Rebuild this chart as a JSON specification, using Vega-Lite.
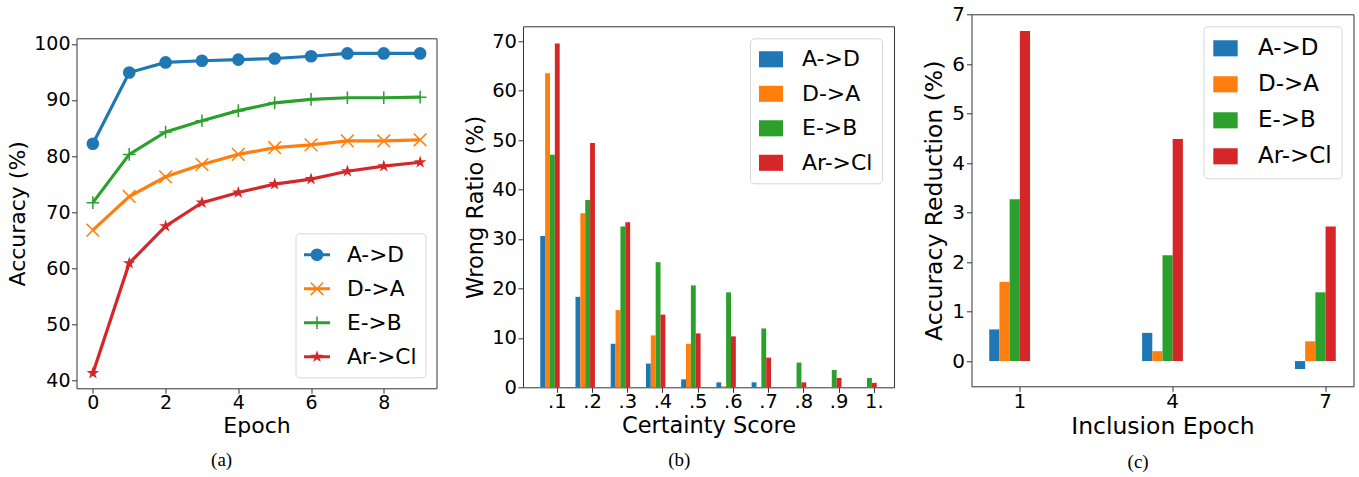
{
  "$schema": "https://vega.github.io/schema/vega-lite/v6.json",
  "background": "white",
  "padding": {"left": 5.5, "top": 3.3, "right": 0, "bottom": 0},
  "spacing": 26.5,
  "resolve": {"scale": {"color": "independent", "stroke": "independent", "shape": "independent", "xOffset": "independent"}, "legend": {"color": "independent", "stroke": "independent", "shape": "independent"}},
  "config": {
    "font": "DejaVu Sans",
    "view": {"stroke": "#333333", "strokeWidth": 1},
    "axis": {"domain": false, "grid": false, "tickColor": "#333333", "tickSize": 5, "tickWidth": 1, "labelColor": "#000000", "titleColor": "#000000", "labelFont": "DejaVu Sans", "titleFont": "DejaVu Sans", "titleFontWeight": "normal"},
    "legend": {"labelFont": "DejaVu Sans", "labelColor": "#000000", "strokeColor": "#d6d6d6", "fillColor": "rgba(255,255,255,0.85)", "cornerRadius": 4, "symbolOpacity": 1, "symbolStrokeWidth": 0}
  },
  "hconcat": [
    {
      "title": {"text": "(a)", "orient": "bottom", "font": "Liberation Serif", "fontSize": 19, "fontWeight": "normal", "color": "#000000", "anchor": "middle", "frame": "bounds", "offset": 14},
      "spacing": 0,
      "resolve": {"scale": {"color": "independent", "stroke": "independent", "shape": "independent"}, "legend": {"color": "independent", "stroke": "independent", "shape": "independent"}},
      "vconcat": [
        {"width": 1, "height": 19.6, "data": {"values": []}, "mark": "point", "view": {"stroke": null, "fill": "white"}},
        {
          "width": 360,
          "height": 350,
          "data": {"values": [
            {"series": "A->D", "epoch": 0, "acc": 82.2}, {"series": "A->D", "epoch": 1, "acc": 94.9}, {"series": "A->D", "epoch": 2, "acc": 96.7}, {"series": "A->D", "epoch": 3, "acc": 97.0}, {"series": "A->D", "epoch": 4, "acc": 97.2}, {"series": "A->D", "epoch": 5, "acc": 97.4}, {"series": "A->D", "epoch": 6, "acc": 97.8}, {"series": "A->D", "epoch": 7, "acc": 98.3}, {"series": "A->D", "epoch": 8, "acc": 98.3}, {"series": "A->D", "epoch": 9, "acc": 98.3},
            {"series": "D->A", "epoch": 0, "acc": 66.8}, {"series": "D->A", "epoch": 1, "acc": 72.8}, {"series": "D->A", "epoch": 2, "acc": 76.3}, {"series": "D->A", "epoch": 3, "acc": 78.5}, {"series": "D->A", "epoch": 4, "acc": 80.3}, {"series": "D->A", "epoch": 5, "acc": 81.5}, {"series": "D->A", "epoch": 6, "acc": 82.0}, {"series": "D->A", "epoch": 7, "acc": 82.7}, {"series": "D->A", "epoch": 8, "acc": 82.7}, {"series": "D->A", "epoch": 9, "acc": 82.9},
            {"series": "E->B", "epoch": 0, "acc": 71.7}, {"series": "E->B", "epoch": 1, "acc": 80.3}, {"series": "E->B", "epoch": 2, "acc": 84.3}, {"series": "E->B", "epoch": 3, "acc": 86.3}, {"series": "E->B", "epoch": 4, "acc": 88.1}, {"series": "E->B", "epoch": 5, "acc": 89.5}, {"series": "E->B", "epoch": 6, "acc": 90.1}, {"series": "E->B", "epoch": 7, "acc": 90.4}, {"series": "E->B", "epoch": 8, "acc": 90.4}, {"series": "E->B", "epoch": 9, "acc": 90.5},
            {"series": "Ar->Cl", "epoch": 0, "acc": 41.3}, {"series": "Ar->Cl", "epoch": 1, "acc": 60.9}, {"series": "Ar->Cl", "epoch": 2, "acc": 67.5}, {"series": "Ar->Cl", "epoch": 3, "acc": 71.7}, {"series": "Ar->Cl", "epoch": 4, "acc": 73.5}, {"series": "Ar->Cl", "epoch": 5, "acc": 75.0}, {"series": "Ar->Cl", "epoch": 6, "acc": 75.9}, {"series": "Ar->Cl", "epoch": 7, "acc": 77.3}, {"series": "Ar->Cl", "epoch": 8, "acc": 78.2}, {"series": "Ar->Cl", "epoch": 9, "acc": 78.9}
          ]},
          "encoding": {
            "x": {"field": "epoch", "type": "quantitative", "scale": {"domain": [-0.45, 9.45], "nice": false, "zero": false}, "axis": {"values": [0, 2, 4, 6, 8], "title": "Epoch", "labelFontSize": 19, "labelPadding": 0.5, "titleFontSize": 22, "titlePadding": 3, "labelFlush": false}},
            "y": {"field": "acc", "type": "quantitative", "scale": {"domain": [38.6, 101], "nice": false, "zero": false}, "axis": {"values": [40, 50, 60, 70, 80, 90, 100], "title": "Accuracy (%)", "labelFontSize": 19, "labelPadding": 1.5, "titleFontSize": 22, "titlePadding": 4}}
          },
          "layer": [
            {
              "mark": {"type": "line", "strokeWidth": 3.2},
              "encoding": {
                "stroke": {"field": "series", "type": "nominal", "scale": {"domain": ["Ar->Cl", "E->B", "D->A", "A->D"], "range": ["#d62728", "#2ca02c", "#ff7f0e", "#1f77b4"]}, "legend": null}
              }
            },
            {
              "mark": {"type": "point", "filled": true, "opacity": 1, "size": 160, "strokeWidth": 0},
              "encoding": {
                "color": {"field": "series", "type": "nominal", "scale": {"domain": ["A->D", "D->A", "E->B", "Ar->Cl"], "range": ["#1f77b4", "#ff7f0e", "#2ca02c", "#d62728"]},
                  "legend": {"title": null, "orient": "bottom-right", "offset": 11.5, "symbolSize": 676, "symbolStrokeWidth": 0, "labelFontSize": 21.7, "labelOffset": 17, "rowPadding": 9, "padding": 8.5,
                    "symbolType": {"expr": "datum.value === 'A->D' ? 'M-1,-0.115H1V0.115H-1ZM0.485,0A0.485,0.485,0,1,1,-0.485,0A0.485,0.485,0,1,1,0.485,0Z' : datum.value === 'D->A' ? 'M-1,-0.115H1V0.115H-1ZM-0.444,-0.526L0.526,0.444L0.444,0.526L-0.526,-0.444ZM-0.444,0.526L-0.526,0.444L0.444,-0.526L0.526,-0.444Z' : datum.value === 'E->B' ? 'M-1,-0.115H1V0.115H-1ZM-0.058,-0.485H0.058V0.485H-0.058Z' : 'M-1,-0.115H1V0.115H-1ZM0,-0.5L0.113,-0.155L0.476,-0.155L0.182,0.059L0.294,0.405L0,0.191L-0.294,0.405L-0.182,0.059L-0.476,-0.155L-0.113,-0.155Z'"}}},
                "shape": {"field": "series", "type": "nominal", "scale": {"domain": ["Ar->Cl", "E->B", "D->A", "A->D"], "range": ["M0,-1.05L0.236,-0.324L0.999,-0.324L0.381,0.124L0.617,0.849L0,0.401L-0.617,0.849L-0.381,0.124L-0.999,-0.324L-0.236,-0.324Z", "M-0.12,-1H0.12V1H-0.12ZM-1,-0.12H1V0.12H-1Z", "M-0.915,-1.085L1.085,0.915L0.915,1.085L-1.085,-0.915ZM-0.915,1.085L-1.085,0.915L0.915,-1.085L1.085,-0.915Z", "circle"]}, "legend": null}
              }
            }
          ]
        }
      ]
    },
    {
      "title": {"text": "(b)", "orient": "bottom", "font": "Liberation Serif", "fontSize": 19, "fontWeight": "normal", "color": "#000000", "anchor": "middle", "frame": "bounds", "offset": 14},
      "spacing": 0,
      "resolve": {"scale": {"color": "independent", "xOffset": "independent"}, "legend": {"color": "independent"}},
      "vconcat": [
        {"width": 1, "height": 10.9, "data": {"values": []}, "mark": "point", "view": {"stroke": null, "fill": "white"}},
        {
          "width": 371,
          "height": 361,
          "data": {"values": [
            {"score": ".1", "series": "A->D", "ratio": 30.6}, {"score": ".1", "series": "D->A", "ratio": 63.5}, {"score": ".1", "series": "E->B", "ratio": 47.0}, {"score": ".1", "series": "Ar->Cl", "ratio": 69.5},
            {"score": ".2", "series": "A->D", "ratio": 18.3}, {"score": ".2", "series": "D->A", "ratio": 35.2}, {"score": ".2", "series": "E->B", "ratio": 37.9}, {"score": ".2", "series": "Ar->Cl", "ratio": 49.4},
            {"score": ".3", "series": "A->D", "ratio": 8.8}, {"score": ".3", "series": "D->A", "ratio": 15.6}, {"score": ".3", "series": "E->B", "ratio": 32.5}, {"score": ".3", "series": "Ar->Cl", "ratio": 33.4},
            {"score": ".4", "series": "A->D", "ratio": 4.8}, {"score": ".4", "series": "D->A", "ratio": 10.5}, {"score": ".4", "series": "E->B", "ratio": 25.3}, {"score": ".4", "series": "Ar->Cl", "ratio": 14.7},
            {"score": ".5", "series": "A->D", "ratio": 1.6}, {"score": ".5", "series": "D->A", "ratio": 8.8}, {"score": ".5", "series": "E->B", "ratio": 20.6}, {"score": ".5", "series": "Ar->Cl", "ratio": 10.9},
            {"score": ".6", "series": "A->D", "ratio": 1.0}, {"score": ".6", "series": "D->A", "ratio": 0.2}, {"score": ".6", "series": "E->B", "ratio": 19.2}, {"score": ".6", "series": "Ar->Cl", "ratio": 10.3},
            {"score": ".7", "series": "A->D", "ratio": 1.0}, {"score": ".7", "series": "D->A", "ratio": 0}, {"score": ".7", "series": "E->B", "ratio": 11.9}, {"score": ".7", "series": "Ar->Cl", "ratio": 6.0},
            {"score": ".8", "series": "A->D", "ratio": 0}, {"score": ".8", "series": "D->A", "ratio": 0}, {"score": ".8", "series": "E->B", "ratio": 5.0}, {"score": ".8", "series": "Ar->Cl", "ratio": 1.0},
            {"score": ".9", "series": "A->D", "ratio": 0}, {"score": ".9", "series": "D->A", "ratio": 0}, {"score": ".9", "series": "E->B", "ratio": 3.5}, {"score": ".9", "series": "Ar->Cl", "ratio": 1.9},
            {"score": "1.", "series": "A->D", "ratio": 0}, {"score": "1.", "series": "D->A", "ratio": 0}, {"score": "1.", "series": "E->B", "ratio": 1.9}, {"score": "1.", "series": "Ar->Cl", "ratio": 0.9}
          ]},
          "mark": {"type": "bar"},
          "encoding": {
            "x": {"field": "score", "type": "nominal", "scale": {"domain": [".1", ".2", ".3", ".4", ".5", ".6", ".7", ".8", ".9", "1."], "paddingInner": 0.448, "paddingOuter": 0.49}, "axis": {"title": "Certainty Score", "labelAngle": 0, "bandPosition": 0.875, "labelOffset": 7.3, "labelFontSize": 19.5, "labelPadding": 0.5, "titleFontSize": 22.5, "titlePadding": 3}},
            "xOffset": {"field": "series", "type": "nominal", "scale": {"domain": ["A->D", "D->A", "E->B", "Ar->Cl"]}},
            "y": {"field": "ratio", "type": "quantitative", "scale": {"domain": [0, 73], "nice": false}, "axis": {"values": [0, 10, 20, 30, 40, 50, 60, 70], "title": "Wrong Ratio (%)", "labelFontSize": 19.5, "labelPadding": 1.5, "titleFontSize": 22.5, "titlePadding": 4}},
            "color": {"field": "series", "type": "nominal", "scale": {"domain": ["A->D", "D->A", "E->B", "Ar->Cl"], "range": ["#1f77b4", "#ff7f0e", "#2ca02c", "#d62728"]},
              "legend": {"title": null, "orient": "top-right", "offset": 12, "symbolType": "M-1,-0.67H1V0.67H-1Z", "symbolSize": 576, "labelFontSize": 22, "labelOffset": 19, "rowPadding": 11.5, "padding": 9}}
          }
        }
      ]
    },
    {
      "title": {"text": "(c)", "orient": "bottom", "font": "Liberation Serif", "fontSize": 19, "fontWeight": "normal", "color": "#000000", "anchor": "middle", "frame": "bounds", "offset": 14},
      "spacing": 0,
      "resolve": {"scale": {"color": "independent", "xOffset": "independent"}, "legend": {"color": "independent"}},
      "vconcat": [
        {
          "width": 382,
          "height": 372,
          "data": {"values": [
            {"epoch": "1", "series": "A->D", "red": 0.64}, {"epoch": "1", "series": "D->A", "red": 1.6}, {"epoch": "1", "series": "E->B", "red": 3.27}, {"epoch": "1", "series": "Ar->Cl", "red": 6.67},
            {"epoch": "4", "series": "A->D", "red": 0.57}, {"epoch": "4", "series": "D->A", "red": 0.2}, {"epoch": "4", "series": "E->B", "red": 2.14}, {"epoch": "4", "series": "Ar->Cl", "red": 4.49},
            {"epoch": "7", "series": "A->D", "red": -0.16}, {"epoch": "7", "series": "D->A", "red": 0.4}, {"epoch": "7", "series": "E->B", "red": 1.39}, {"epoch": "7", "series": "Ar->Cl", "red": 2.72}
          ]},
          "mark": {"type": "bar"},
          "encoding": {
            "x": {"field": "epoch", "type": "nominal", "scale": {"domain": ["1", "4", "7"], "paddingInner": 0.733, "paddingOuter": 0.116}, "axis": {"title": "Inclusion Epoch", "labelAngle": 0, "bandPosition": 0.75, "labelOffset": 10.2, "labelFontSize": 20, "labelPadding": 0.5, "titleFontSize": 23.5, "titlePadding": 3}},
            "xOffset": {"field": "series", "type": "nominal", "scale": {"domain": ["A->D", "D->A", "E->B", "Ar->Cl"]}},
            "y": {"field": "red", "type": "quantitative", "scale": {"domain": [-0.51, 7.01], "nice": false, "zero": false}, "axis": {"values": [0, 1, 2, 3, 4, 5, 6, 7], "title": "Accuracy Reduction (%)", "labelFontSize": 20, "labelPadding": 2, "titleFontSize": 23.5, "titlePadding": 5}},
            "color": {"field": "series", "type": "nominal", "scale": {"domain": ["A->D", "D->A", "E->B", "Ar->Cl"], "range": ["#1f77b4", "#ff7f0e", "#2ca02c", "#d62728"]},
              "legend": {"title": null, "orient": "top-right", "offset": 12.4, "symbolType": "M-1,-0.66H1V0.66H-1Z", "symbolSize": 595, "labelFontSize": 23, "labelOffset": 20, "rowPadding": 11, "padding": 9.5}}
          }
        }
      ]
    }
  ]
}
